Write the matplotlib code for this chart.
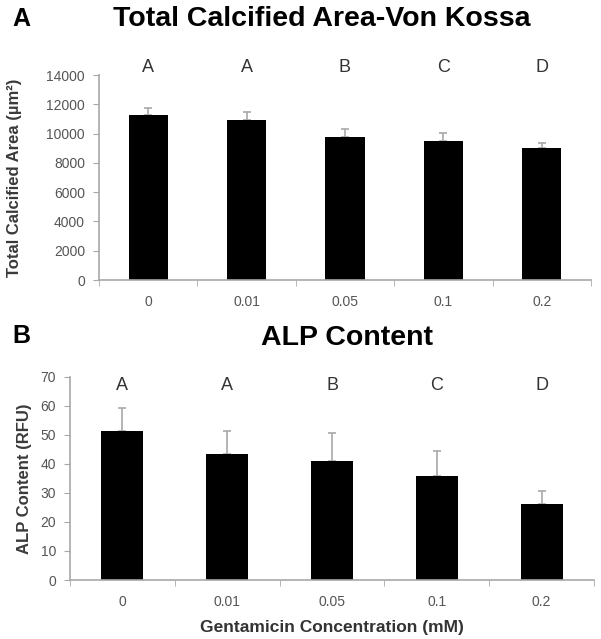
import matplotlib
matplotlib.use("Agg")
import matplotlib.pyplot as plt

plt.rcParams['font.family'] = ['Liberation Sans', 'DejaVu Sans']

# concentrations (mM)
CATEGORIES = ["0", "0.01", "0.05", "0.1", "0.2"]
GROUPS = ["A", "A", "B", "C", "D"]

# panel A - von kossa
AREA_MEAN = [11270, 10900, 9800, 9510, 8990]
AREA_ERR = [500, 560, 500, 550, 380]

# panel B - alp
ALP_MEAN = [51.5, 43.5, 41, 35.8, 26.1]
ALP_ERR = [7.8, 8, 9.8, 8.8, 4.7]

GRAY = "#a8a8a8"
TEXT = "#555555"


def style_axes(ax, ymax, step):
    """ Excel-like look: gray axis lines, no top/right spines. """
    for side in ["top", "right"]:
        ax.spines[side].set_visible(False)
    for side in ["left", "bottom"]:
        ax.spines[side].set_color(GRAY)
        ax.spines[side].set_linewidth(1.2)
    ax.set_ylim(0, ymax)
    ax.set_yticks(range(0, ymax + 1, step))
    ax.set_xlim(-0.5, len(CATEGORIES) - 0.5)
    ax.set_xticks(range(len(CATEGORIES)))
    ax.set_xticklabels(CATEGORIES)
    ax.tick_params(axis="x", length=0, labelsize=10, colors=TEXT, pad=11)
    ax.tick_params(axis="y", length=4, labelsize=10, colors=TEXT,
                   direction="out", pad=6)
    ax.tick_params(axis="y", color=GRAY)
    # small ticks between categories
    ax.set_xticks([i + 0.5 for i in range(-1, len(CATEGORIES))], minor=True)
    ax.tick_params(axis="x", which="minor", length=4, color=GRAY)


def draw_panel(ax, means, errs, ymax, step, ylabel, letter_y, label_x):
    pos = range(len(means))
    ax.bar(pos, means, width=0.4, color="black", zorder=2)
    ax.errorbar(pos, means, yerr=[[0] * len(errs), errs], fmt="none",
                ecolor=GRAY, elinewidth=1.2, capsize=3, capthick=1.2, zorder=1)
    style_axes(ax, ymax, step)
    ax.set_ylabel(ylabel, fontsize=12, fontweight="bold", color="#3a3a3a")
    # label x is the right edge of the rotated text
    ax.yaxis.set_label_coords(label_x, 0.5)
    for i, g in enumerate(GROUPS):
        ax.text(i, letter_y, g, ha="center", va="center", fontsize=13,
                color="#333333", clip_on=False)


fig = plt.figure(figsize=[6.01, 6.39], dpi=100)

ax1 = fig.add_axes([0.1647, 0.5618, 0.8186, 0.3208])
draw_panel(ax1, AREA_MEAN, AREA_ERR, 14000, 2000,
           "Total Calcified Area (\u00b5m\u00b2)", 14500, -0.156)

ax2 = fig.add_axes([0.1165, 0.0923, 0.872, 0.318])
draw_panel(ax2, ALP_MEAN, ALP_ERR, 70, 10, "ALP Content (RFU)", 67, -0.0725)
ax2.set_xlabel("Gentamicin Concentration (mM)", fontsize=12.5,
               fontweight="bold", color="#333333", labelpad=8)

fig.text(0.021, 0.970, "A", fontsize=18, fontweight="bold", va="center")
fig.text(0.535, 0.970, "Total Calcified Area-Von Kossa", fontsize=20.5,
         fontweight="bold", ha="center", va="center")
fig.text(0.021, 0.474, "B", fontsize=18, fontweight="bold", va="center")
fig.text(0.577, 0.471, "ALP Content", fontsize=20.5, fontweight="bold",
         ha="center", va="center")

fig.savefig("out.png", dpi=100)
